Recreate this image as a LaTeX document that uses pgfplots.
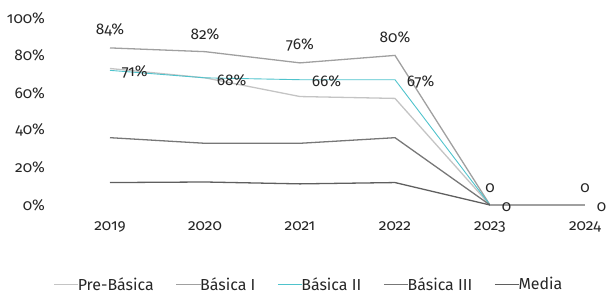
\documentclass[border=0pt]{standalone}
\usepackage{fontspec}
\setmainfont{Fira Sans}[Numbers=OldStyle]
\usepackage{pgfplots}
\pgfplotsset{compat=1.18}
\definecolor{cpre}{HTML}{C4C4C4}
\definecolor{cb1}{HTML}{A0A0A0}
\definecolor{cb2}{HTML}{4FC3CC}
\definecolor{cb3}{HTML}{777777}
\definecolor{cmed}{HTML}{5F5F5F}
\definecolor{ctext}{HTML}{262626}
\begin{document}
\begin{tikzpicture}
\useasboundingbox (0bp,0bp) rectangle (607bp,296bp);
\begin{axis}[
  at={(62.5bp,91bp)}, anchor=south west,
  scale only axis, width=541.5bp, height=187bp,
  xmin=2018.5, xmax=2024.2, ymin=0, ymax=100,
  axis line style={draw=none},
  tick style={draw=none},
  xtick={2019,...,2024},
  xticklabel style={/pgf/number format/1000 sep={}, yshift=-13bp},
  ytick={0,20,...,100},
  yticklabel={\pgfmathprintnumber{\tick}\%},
  yticklabel style={xshift=-14bp},
  /pgf/number format/assume math mode=true,
  ticklabel style={font=\fontsize{15.5}{17}\selectfont, text=ctext},
  clip=false,
  legend style={at={(0.455,-0.425)}, anchor=center, draw=none, fill=none,
    legend columns=5, font=\fontsize{16}{18}\selectfont, text=ctext,
    /tikz/every even column/.append style={column sep=20bp},
    /tikz/every odd column/.append style={column sep=-3bp}},
  legend image code/.code={\draw[#1] (-0.3cm,0cm) -- (0.55cm,0cm);},
  legend cell align=left,
  every node near coord/.append style={font=\fontsize{15.5}{17}\selectfont, text=ctext},
]
\addplot[cpre, line width=1.3pt] coordinates {(2019,73) (2020,68) (2021,58) (2022,57) (2023,0)};
\addlegendentry{Pre-Básica}
\addplot[cb1, line width=1.3pt, nodes near coords, point meta=explicit symbolic,
  every node near coord/.append style={anchor=south, yshift=8bp}] coordinates {
  (2019,84)[84\%] (2020,82)[82\%] (2021,76)[76\%] (2022,80)[80\%] (2023,0)[0] (2024,0)[0]};
\addlegendentry{Básica I}
\addplot[cb2, line width=0.9pt, nodes near coords, point meta=explicit symbolic,
  every node near coord/.append style={anchor=west, xshift=8bp, yshift=-2bp}] coordinates {
  (2019,72)[71\%] (2020,68)[68\%] (2021,67)[66\%] (2022,67)[67\%] (2023,0)[0] (2024,0)[0]};
\addlegendentry{Básica II}
\addplot[cb3, line width=1.3pt] coordinates {(2019,36) (2020,33) (2021,33) (2022,36) (2023,0)};
\addlegendentry{Básica III}
\addplot[cmed, line width=1.3pt] coordinates {(2019,12) (2020,12.3) (2021,11.3) (2022,12) (2023,0)};
\addlegendentry{Media}
\addplot[cb1, line width=1.3pt, forget plot] coordinates {(2023,0) (2024,0)};
\end{axis}
\end{tikzpicture}
\end{document}
